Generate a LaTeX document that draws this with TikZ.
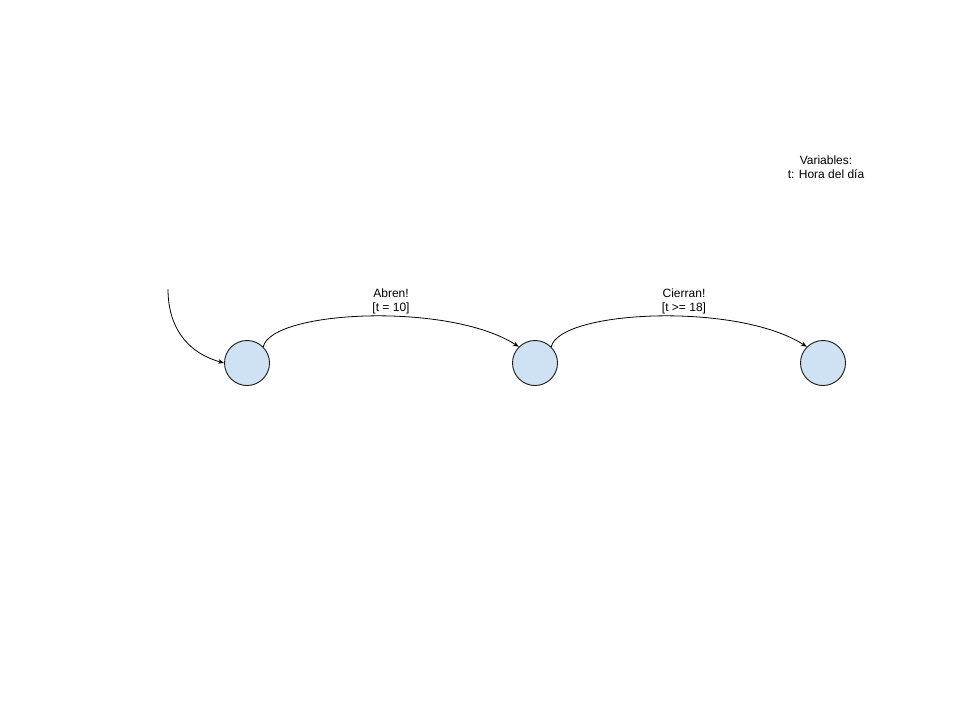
\documentclass[tikz,border=0pt]{standalone}
\usepackage{fontspec}
\setmainfont{Liberation Sans}
\usetikzlibrary{arrows.meta}
\definecolor{statefill}{HTML}{CFE2F3}
\definecolor{stateline}{HTML}{1A1A1A}
\begin{document}
\begin{tikzpicture}[x=1pt,y=-1pt,
  state/.style={circle,draw=stateline,fill=statefill,line width=0.9pt,minimum size=45pt,inner sep=0pt},
  trans/.style={draw=black,line width=0.8pt,-{Stealth[length=6pt,width=4.5pt]}},
  lbl/.style={font=\fontsize{12}{14}\selectfont,align=center,inner sep=0pt}]
\useasboundingbox (0,0) rectangle (960,720);
\fill[white] (0,0) rectangle (960,720);

% states
\node[state] (s1) at (247,363) {};
\node[state] (s2) at (535,363) {};
\node[state] (s3) at (823,363) {};

% initial transition
\coordinate (init) at (168,289);
\draw[trans] (init) .. controls (168,325) and (185,352) .. (s1.west);

% transitions between states
\draw[trans] (s1.45) .. controls (272,310) and (450,302) .. (s2.135);
\draw[trans] (s2.45) .. controls (560,310) and (738,302) .. (s3.135);

% transition labels
\node[lbl] (l1) at (391,301) {Abren!\\{}[t = 10]};
\node[lbl] (l2) at (684,301) {Cierran!\\{}[t >= 18]};

% variable legend
\node[lbl] (vars) at (826,167) {Variables:\\t: Hora del día};
\end{tikzpicture}
\end{document}
